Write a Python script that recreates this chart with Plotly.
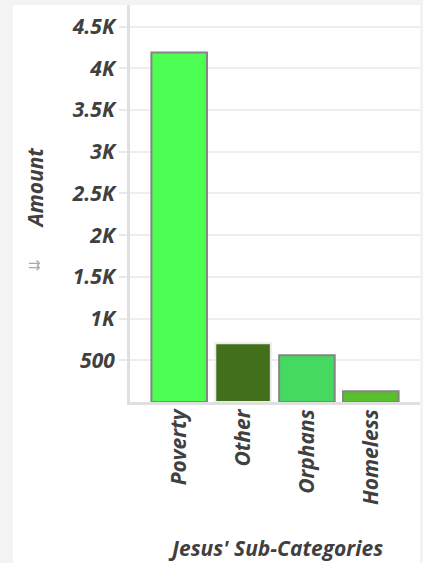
import plotly.graph_objects as go

categories = ["Poverty", "Other", "Orphans", "Homeless"]
amounts = [4190, 705, 560, 130]
bar_colors = ["#4dff52", "#416f1a", "#45d960", "#58bf2d"]
line_colors = ["#858585", "#ececec", "#858585", "#858585"]
tick_vals = [500, 1000, 1500, 2000, 2500, 3000, 3500, 4000, 4500]
tick_text = ["500", "1K", "1.5K", "2K", "2.5K", "3K", "3.5K", "4K", "4.5K"]

FONT = "Open Sans"
TXT = "#404040"
SZ = 21
WT = "bold"

fig = go.Figure(go.Bar(
    x=categories, y=amounts,
    marker=dict(color=bar_colors, line=dict(color=line_colors, width=2)),
))

fig.update_layout(
    width=423, height=563,
    margin=dict(l=130, r=3, t=5, b=161),
    paper_bgcolor="#f3f3f3",
    plot_bgcolor="rgba(0,0,0,0)",
    bargap=0.13,
    showlegend=False,
    font=dict(family=FONT, color=TXT),
    xaxis=dict(
        range=[-0.77, 3.77], fixedrange=True,
        tickangle=-90, ticks="", showgrid=False,
        showline=True, linecolor="#e0e0e0", linewidth=3,
        ticklabelstandoff=-4,
        tickfont=dict(family=FONT, size=SZ, color=TXT, weight=WT, style="italic"),
    ),
    yaxis=dict(
        range=[0, 4760],
        tickvals=tick_vals, ticktext=tick_text,
        ticks="outside", ticklen=8, tickcolor="#e8e8e8", tickwidth=2,
        showgrid=True, gridcolor="#eeeeee", gridwidth=2,
        showline=True, linecolor="#e0e0e0", linewidth=3,
        zeroline=False,
        tickfont=dict(family=FONT, size=SZ, color=TXT, weight=WT, style="italic"),
    ),
    shapes=[
        dict(type="rect", xref="paper", yref="paper", x0=-0.4034, x1=1.0, y0=-0.41, y1=1.0,
             fillcolor="#ffffff", line=dict(width=0), layer="below"),
    ],
    annotations=[
        dict(text="Amount", xref="paper", yref="paper", x=-0.328, y=0.54,
             textangle=-90, showarrow=False, xanchor="center", yanchor="middle",
             font=dict(family=FONT, size=SZ, color=TXT, weight=WT, style="italic")),
        dict(text="⇉", xref="paper", yref="paper", x=-0.328, y=0.345,
             showarrow=False, xanchor="center", yanchor="middle",
             font=dict(family="DejaVu Sans", size=15, color="#aaaaaa")),
        dict(text="Jesus' Sub-Categories", xref="paper", yref="paper", x=0.5, y=-0.367,
             showarrow=False, xanchor="center", yanchor="middle",
             font=dict(family=FONT, size=SZ, color=TXT, weight=WT, style="italic")),
    ],
)

fig.write_html("out.html", config={"displayModeBar": False},
               post_script="document.body.style.margin='0';document.body.style.overflow='hidden';")
